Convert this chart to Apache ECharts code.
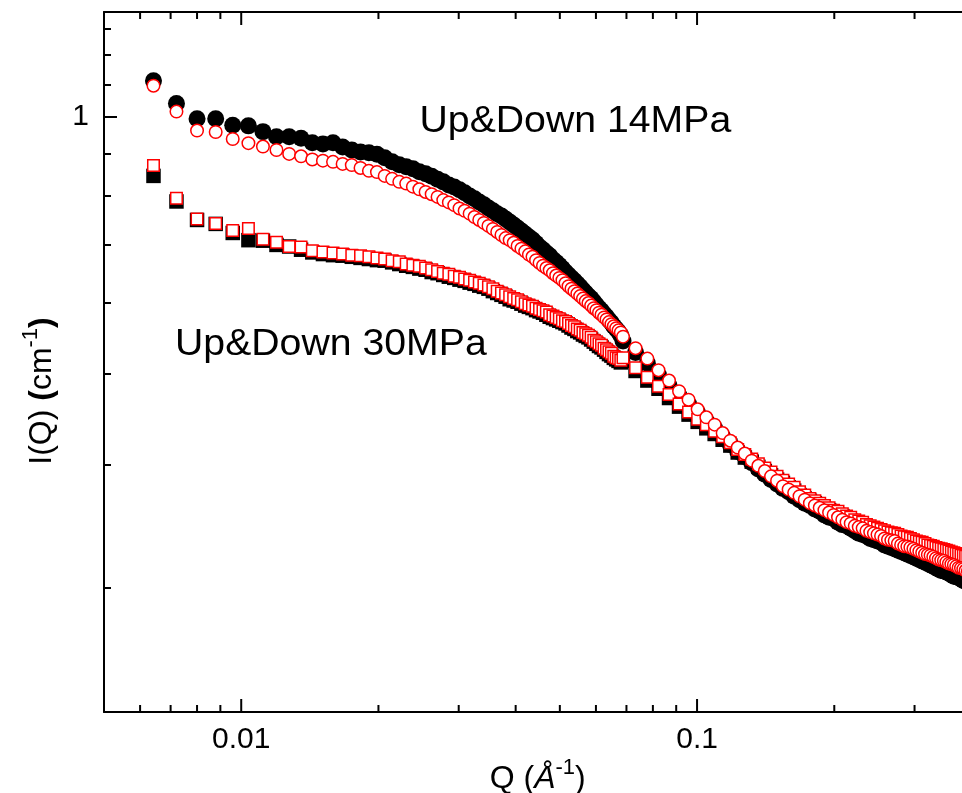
<!DOCTYPE html>
<html>
<head>
<meta charset="utf-8">
<script src="https://cdn.jsdelivr.net/npm/echarts@6/dist/echarts.min.js"></script>
<style>html,body{margin:0;padding:0;background:#fff}#c{width:962px;height:793px}</style>
</head>
<body>
<div id="c"></div>
<script>
// ---------- data (Q in 1/Å, I in 1/cm) ----------
const qLow = [0.00642,0.00721,0.00800,0.00879,0.00958,0.01037,0.01116,0.01195,0.01274,0.01353,
0.01432,0.01511,0.01590,0.01669,0.01748,0.01827,0.01906,0.01985,0.02064,0.02143,
0.02222,0.02301,0.02380,0.02459,0.02538,0.02617,0.02696,0.02775,0.02854,0.02933,
0.03012,0.03091,0.03170,0.03249,0.03328,0.03407,0.03486,0.03565,0.03644,0.03723,
0.03802,0.03881,0.03960,0.04039,0.04118,0.04197,0.04276,0.04355,0.04434,0.04513,
0.04592,0.04671,0.04750,0.04829,0.04908,0.04987,0.05066,0.05145,0.05224,0.05303,
0.05382,0.05461,0.05540,0.05619,0.05698,0.05777,0.05856,0.05935,0.06014,0.06093,
0.06172,0.06251,0.06330,0.06409,0.06488,0.06567,0.06646,0.06725,0.06804];
const qHigh = [0.0688,0.0733,0.0778,0.0823,0.0868,0.0913,0.0958,0.1003,0.1048,0.1093,
0.1138,0.1183,0.1228,0.1273,0.1318,0.1363,0.1408,0.1453,0.1498,0.1543,
0.1588,0.1633,0.1678,0.1723,0.1768,0.1813,0.1858,0.1903,0.1948,0.1993,
0.2038,0.2083,0.2128,0.2173,0.2218,0.2263,0.2308,0.2353,0.2398,0.2443,
0.2488,0.2533,0.2578,0.2623,0.2668,0.2713,0.2758,0.2803,0.2848,0.2893,
0.2938,0.2983,0.3028,0.3073,0.3118,0.3163,0.3208,0.3253,0.3298,0.3343,
0.3388,0.3433,0.3478,0.3523,0.3568,0.3613,0.3658,0.3703,0.3748,0.3793,
0.3838,0.3883,0.3928,0.3973];

// 14 MPa, filled black circles
const i14UpLow = [1.112,1.040,0.995,0.995,0.977,0.975,0.959,0.945,0.945,0.941,
0.929,0.926,0.929,0.918,0.910,0.905,0.903,0.899,0.890,0.880,
0.873,0.868,0.863,0.856,0.851,0.845,0.838,0.832,0.825,0.820,
0.814,0.807,0.800,0.794,0.787,0.781,0.774,0.768,0.762,0.757,
0.751,0.745,0.739,0.733,0.727,0.721,0.715,0.710,0.703,0.696,
0.691,0.685,0.680,0.673,0.668,0.663,0.657,0.651,0.646,0.641,
0.636,0.631,0.626,0.621,0.616,0.611,0.607,0.602,0.597,0.592,
0.588,0.583,0.579,0.574,0.570,0.565,0.561,0.557,0.552];
const i14UpHigh = [0.544,0.528,0.514,0.499,0.486,0.474,0.464,0.454,0.445,0.437,
0.428,0.420,0.413,0.408,0.402,0.396,0.391,0.386,0.382,0.378,
0.375,0.371,0.368,0.365,0.363,0.360,0.358,0.355,0.353,0.352,
0.349,0.347,0.346,0.344,0.342,0.340,0.339,0.338,0.336,0.335,
0.334,0.333,0.331,0.330,0.329,0.328,0.327,0.326,0.325,0.324,
0.323,0.322,0.321,0.320,0.319,0.318,0.317,0.316,0.315,0.314,
0.313,0.312,0.3116,0.311,0.310,0.309,0.308,0.3076,0.307,0.306,
0.305,0.3045,0.304,0.303];

// 14 MPa, open red circles
const i14DownLow = [1.096,1.016,0.962,0.958,0.939,0.928,0.919,0.910,0.900,0.894,
0.886,0.883,0.880,0.875,0.872,0.865,0.858,0.855,0.846,0.839,
0.832,0.828,0.821,0.815,0.809,0.804,0.798,0.791,0.786,0.780,
0.773,0.768,0.762,0.755,0.749,0.743,0.737,0.731,0.725,0.719,
0.713,0.709,0.704,0.698,0.693,0.688,0.682,0.678,0.672,0.667,
0.662,0.658,0.654,0.649,0.645,0.641,0.637,0.632,0.627,0.623,
0.619,0.615,0.611,0.607,0.603,0.600,0.596,0.592,0.589,0.585,
0.582,0.578,0.575,0.571,0.568,0.565,0.562,0.559,0.556];
const i14DownHigh = [0.550,0.534,0.520,0.505,0.492,0.479,0.469,0.458,0.449,0.441,
0.432,0.424,0.417,0.411,0.404,0.399,0.394,0.389,0.385,0.380,
0.377,0.374,0.371,0.368,0.365,0.363,0.361,0.359,0.357,0.355,
0.353,0.351,0.349,0.348,0.346,0.345,0.344,0.342,0.341,0.340,
0.339,0.338,0.336,0.335,0.3345,0.334,0.332,0.331,0.330,0.3297,
0.329,0.328,0.327,0.326,0.325,0.324,0.3236,0.323,0.322,0.321,
0.320,0.3195,0.319,0.318,0.317,0.3166,0.316,0.315,0.314,0.3137,
0.313,0.312,0.3115,0.311];

// 30 MPa, filled black squares
const i30UpLow = [0.846,0.788,0.749,0.741,0.723,0.709,0.708,0.700,0.697,0.691,
0.686,0.683,0.681,0.680,0.678,0.676,0.674,0.672,0.671,0.668,
0.665,0.662,0.660,0.657,0.655,0.651,0.649,0.646,0.643,0.641,
0.638,0.636,0.633,0.631,0.628,0.626,0.623,0.619,0.616,0.613,
0.610,0.606,0.604,0.602,0.599,0.596,0.594,0.592,0.589,0.587,
0.585,0.582,0.579,0.577,0.575,0.573,0.571,0.569,0.566,0.563,
0.561,0.558,0.556,0.553,0.551,0.549,0.546,0.543,0.540,0.537,
0.535,0.532,0.529,0.526,0.524,0.521,0.519,0.517,0.515];
const i30UpHigh = [0.517,0.504,0.492,0.482,0.471,0.461,0.452,0.444,0.437,0.431,
0.425,0.419,0.412,0.407,0.403,0.398,0.394,0.390,0.386,0.383,
0.379,0.376,0.372,0.369,0.367,0.365,0.362,0.360,0.359,0.357,
0.355,0.354,0.352,0.350,0.349,0.347,0.346,0.345,0.344,0.3425,
0.341,0.3405,0.340,0.339,0.338,0.3374,0.3366,0.336,0.335,0.3343,
0.3335,0.333,0.332,0.331,0.3305,0.3297,0.329,0.328,0.3274,0.3266,
0.3263,0.3255,0.325,0.3244,0.324,0.3232,0.3229,0.3221,0.3217,0.321,
0.3206,0.3202,0.3195,0.3191];

// 30 MPa, open red squares
const i30DownLow = [0.871,0.795,0.751,0.742,0.728,0.732,0.711,0.705,0.697,0.696,
0.689,0.687,0.685,0.683,0.681,0.680,0.678,0.676,0.674,0.671,
0.669,0.665,0.663,0.661,0.658,0.655,0.652,0.649,0.647,0.644,
0.642,0.639,0.637,0.634,0.632,0.629,0.626,0.623,0.619,0.616,
0.613,0.610,0.607,0.605,0.602,0.599,0.597,0.595,0.592,0.590,
0.588,0.586,0.582,0.580,0.578,0.576,0.573,0.572,0.569,0.566,
0.564,0.561,0.559,0.556,0.554,0.552,0.549,0.545,0.543,0.540,
0.538,0.534,0.532,0.529,0.527,0.523,0.521,0.520,0.518];
const i30DownHigh = [0.521,0.508,0.496,0.485,0.475,0.464,0.455,0.447,0.441,0.434,
0.428,0.422,0.415,0.410,0.4055,0.401,0.397,0.393,0.389,0.3855,
0.382,0.379,0.375,0.372,0.369,0.367,0.365,0.363,0.361,0.359,
0.358,0.356,0.354,0.353,0.351,0.350,0.349,0.347,0.346,0.345,
0.344,0.343,0.342,0.341,0.3405,0.340,0.339,0.338,0.3374,0.337,
0.336,0.335,0.334,0.3335,0.333,0.332,0.331,0.3305,0.330,0.329,
0.3285,0.328,0.3274,0.327,0.3263,0.3255,0.325,0.3244,0.324,0.3232,
0.3229,0.3225,0.3217,0.3214];

// ticks
const qMajorTicks = [0.01, 0.1];
const qMinorTicks = [0.006,0.007,0.008,0.009,0.02,0.03,0.04,0.05,0.06,0.07,0.08,0.09,0.2,0.3];
const iMajorTicks = [1];
const iMinorTicks = [1.3,1.2,1.1,0.9,0.8,0.7,0.6,0.5,0.4,0.3];
const qRange = [0.005, 0.4];
const iRange = [0.2279, 1.3684];
const label14 = 'Up&Down 14MPa';
const label30 = 'Up&Down 30MPa';

// ---------- chart ----------
// The reference's intensity axis is a power-type scale (I^-0.2); the value axis uses it.
const yT = v => -Math.pow(v, -0.2);
const yInv = t => Math.pow(-t, -5);
const FONT = '"Liberation Sans", Arial, sans-serif';

function pts(qs, vs) { return qs.map((q, i) => [q, yT(vs[i])]); }

const gridRect = {left: 104, top: 12, width: 867.5, height: 700, outerBoundsMode: 'none', containLabel: false};
const lineStyle = {color: '#000', width: 2};

function iAx(grid, pos, ticks, len, showLine, extra) {
  return Object.assign({
    gridIndex: grid, type: 'value', position: pos,
    min: yT(iRange[0]), max: yT(iRange[1]),
    axisLine: {show: showLine, onZero: false, lineStyle: lineStyle},
    axisTick: {show: true, inside: true, length: len, lineStyle: lineStyle, customValues: ticks.map(yT)},
    axisLabel: {show: false},
    splitLine: {show: false}, minorTick: {show: false}
  }, extra || {});
}
function logQAx(grid, pos, showLine, extra) {
  return Object.assign({
    gridIndex: grid, type: 'log', logBase: 10, position: pos,
    min: qRange[0], max: qRange[1],
    axisLine: {show: showLine, onZero: false, lineStyle: lineStyle},
    axisTick: {show: false}, axisLabel: {show: false},
    splitLine: {show: false}, minorTick: {show: false}
  }, extra || {});
}
// Q-axis ticks (bottom, pointing up; top, pointing down) placed through the log axis
function qTickSeries(ticks, len) {
  return {
    type: 'custom', coordinateSystem: 'cartesian2d', xAxisIndex: 0, yAxisIndex: 0,
    silent: true, clip: false, z: 1,
    data: ticks.map(q => [q, yT(1)]),
    renderItem: function (params, api) {
      const q = api.value(0);
      const b = api.coord([q, yT(iRange[0])]);
      const t = api.coord([q, yT(iRange[1])]);
      const st = {stroke: '#000', lineWidth: 2};
      return {type: 'group', children: [
        {type: 'line', shape: {x1: b[0], y1: b[1], x2: b[0], y2: b[1] - len}, style: st},
        {type: 'line', shape: {x1: t[0], y1: t[1], x2: t[0], y2: t[1] + len}, style: st}
      ]};
    }
  };
}

const chart = echarts.init(document.getElementById('c'), null, {renderer: 'canvas'});
chart.setOption({
  animation: false,
  backgroundColor: '#fff',
  textStyle: {fontFamily: FONT},
  grid: [Object.assign({}, gridRect), Object.assign({}, gridRect)],
  xAxis: [
    logQAx(0, 'bottom', true, {
      axisLabel: {show: true, customValues: qMajorTicks, margin: 13, fontSize: 30, fontFamily: FONT, color: '#000',
        formatter: v => String(parseFloat(Number(v).toPrecision(2)))},
      name: '{n|Q (}{i|Å}{s|-1}{n|)}', nameLocation: 'middle', nameGap: 45, nameMoveOverlap: false,
      nameTextStyle: {color: '#000', fontFamily: FONT, rich: {
        n: {fontSize: 32, lineHeight: 44, fontFamily: FONT, color: '#000'},
        i: {fontSize: 32, lineHeight: 44, fontFamily: FONT, fontStyle: 'italic', color: '#000'},
        s: {fontSize: 22, lineHeight: 22, fontFamily: FONT, verticalAlign: 'top', color: '#000'}
      }}
    }),
    logQAx(0, 'top', true),
    logQAx(1, 'bottom', false)
  ],
  yAxis: [
    iAx(0, 'left', iMajorTicks, 13, true, {
      axisLabel: {show: true, customValues: iMajorTicks.map(yT), margin: 15, fontSize: 30, fontFamily: FONT, color: '#000',
        formatter: v => String(Math.round(yInv(v) * 10) / 10)},
      name: '{n|I(Q) }{b|(}{n|cm}{s|-1}{b|)}', nameLocation: 'middle', nameGap: 40, nameMoveOverlap: false,
      nameTextStyle: {color: '#000', fontFamily: FONT, padding: [0, 58, 0, 0], rich: {
        n: {fontSize: 32, lineHeight: 44, fontFamily: FONT, color: '#000'},
        b: {fontSize: 32, lineHeight: 44, fontFamily: FONT, fontWeight: 'bold', color: '#000'},
        s: {fontSize: 22, lineHeight: 22, fontFamily: FONT, verticalAlign: 'top', color: '#000'}
      }}
    }),
    iAx(1, 'left', iMinorTicks, 7, false)
  ],
  series: [
    qTickSeries(qMinorTicks, 7),
    qTickSeries(qMajorTicks, 13),
    {name: '30MPa (filled)', type: 'scatter', xAxisIndex: 0, yAxisIndex: 0, silent: true,
      data: pts(qLow, i30UpLow).concat(pts(qHigh, i30UpHigh)),
      symbol: 'rect', symbolSize: 14.5, itemStyle: {color: '#000', opacity: 1}},
    {name: '14MPa (filled)', type: 'scatter', xAxisIndex: 0, yAxisIndex: 0, silent: true,
      data: pts(qLow, i14UpLow).concat(pts(qHigh, i14UpHigh)),
      symbol: 'circle', symbolSize: 17, itemStyle: {color: '#000', opacity: 1}},
    {name: '30MPa (open)', type: 'scatter', xAxisIndex: 0, yAxisIndex: 0, silent: true,
      data: pts(qLow, i30DownLow).concat(pts(qHigh, i30DownHigh)),
      symbol: 'rect', symbolSize: 11.5, itemStyle: {color: '#fff', borderColor: '#ff0000', borderWidth: 1.5, opacity: 1}},
    {name: '14MPa (open)', type: 'scatter', xAxisIndex: 0, yAxisIndex: 0, silent: true,
      data: pts(qLow, i14DownLow).concat(pts(qHigh, i14DownHigh)),
      symbol: 'circle', symbolSize: 12.5, itemStyle: {color: '#fff', borderColor: '#ff0000', borderWidth: 1.5, opacity: 1}}
  ],
  graphic: [
    {type: 'text', x: 419.5, y: 121.5, scaleX: 1.06, silent: true,
      style: {text: label14, fontSize: 37, fontFamily: FONT, fill: '#000', align: 'left', verticalAlign: 'middle'}},
    {type: 'text', x: 175, y: 345, scaleX: 1.06, silent: true,
      style: {text: label30, fontSize: 37, fontFamily: FONT, fill: '#000', align: 'left', verticalAlign: 'middle'}}
  ]
});
</script>
</body>
</html>
